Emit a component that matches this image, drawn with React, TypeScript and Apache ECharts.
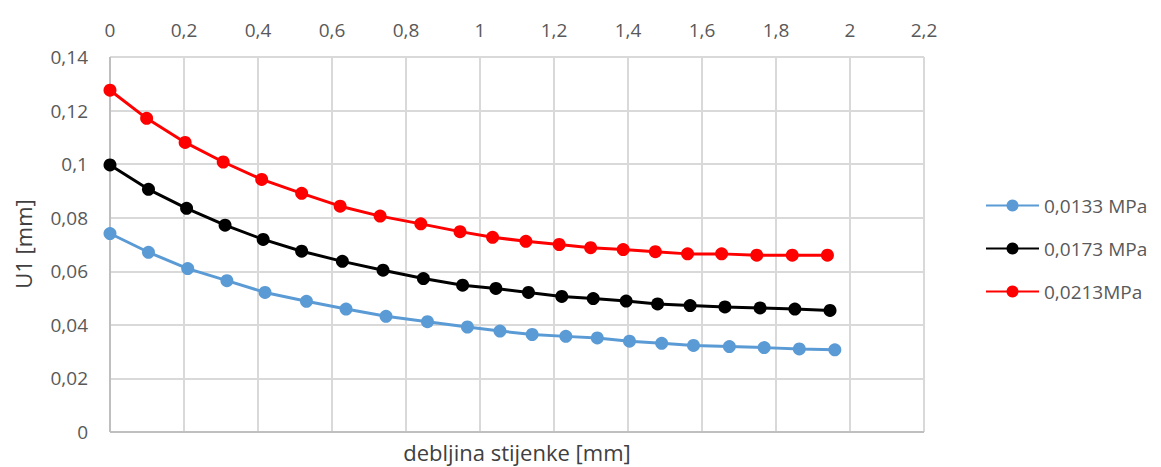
import React, { useEffect, useRef } from "react";
import * as echarts from "echarts";

const seriesNames = ["0,0133 MPa", "0,0173 MPa", "0,0213MPa"];
const seriesColors = ["#5b9bd5", "#000000", "#ff0000"];

const xBlue = [0, 0.104, 0.21, 0.316, 0.419, 0.531, 0.638, 0.746, 0.858, 0.966, 1.054, 1.141, 1.232, 1.317, 1.404, 1.491, 1.577, 1.674, 1.768, 1.863, 1.959];
const yBlue = [0.0741, 0.0671, 0.061, 0.0565, 0.0521, 0.0488, 0.0459, 0.0432, 0.0412, 0.0392, 0.0377, 0.0364, 0.0357, 0.0351, 0.0339, 0.0331, 0.0323, 0.0319, 0.0315, 0.031, 0.0307];

const xBlack = [0, 0.104, 0.207, 0.311, 0.414, 0.518, 0.628, 0.738, 0.847, 0.953, 1.043, 1.131, 1.221, 1.306, 1.395, 1.48, 1.568, 1.662, 1.757, 1.851, 1.946];
const yBlack = [0.0997, 0.0906, 0.0835, 0.0772, 0.0719, 0.0675, 0.0637, 0.0604, 0.0573, 0.0548, 0.0536, 0.0521, 0.0506, 0.0498, 0.0489, 0.0478, 0.0472, 0.0467, 0.0463, 0.0459, 0.0454];

const xRed = [0, 0.099, 0.203, 0.306, 0.41, 0.518, 0.622, 0.73, 0.84, 0.946, 1.034, 1.124, 1.214, 1.299, 1.387, 1.474, 1.561, 1.653, 1.748, 1.844, 1.939];
const yRed = [0.1276, 0.1171, 0.1081, 0.1008, 0.0943, 0.0891, 0.0843, 0.0806, 0.0777, 0.0748, 0.0727, 0.0712, 0.07, 0.0688, 0.0681, 0.0673, 0.0665, 0.0665, 0.066, 0.066, 0.066];

const xTitle = "debljina stijenke [mm]";
const yTitle = "U1 [mm]";

const FONT = "'Open Sans', 'Noto Sans', sans-serif";

const fmt = (v: number) => String(Number(v.toFixed(3))).replace(".", ",");
const zip = (xs: number[], ys: number[]) => xs.map((x, i) => [x, ys[i]]);

export default function App() {
  const ref = useRef<HTMLDivElement>(null);
  useEffect(() => {
    document.body.style.margin = "0";
    const chart = echarts.init(ref.current!, null, { renderer: "svg" });
    const data = [zip(xBlue, yBlue), zip(xBlack, yBlack), zip(xRed, yRed)];
    chart.setOption({
      animation: false,
      backgroundColor: "#ffffff",
      grid: { left: 110, right: 237, top: 57, bottom: 35, containLabel: false },
      legend: {
        orient: "vertical",
        left: 980,
        top: 191,
        itemWidth: 53,
        itemHeight: 15,
        itemGap: 24,
        textStyle: { color: "#595959", fontSize: 19, fontFamily: FONT },
        data: seriesNames,
      },
      xAxis: {
        type: "value",
        position: "top",
        min: 0,
        max: 2.2,
        interval: 0.2,
        axisLine: { show: false },
        axisTick: { show: false },
        axisLabel: {
          color: "#595959",
          fontSize: 19,
          fontFamily: FONT,
          margin: 18,
          formatter: fmt,
        },
        splitLine: { show: true, lineStyle: { color: "#d9d9d9", width: 2 } },
      },
      yAxis: {
        type: "value",
        min: 0,
        max: 0.14,
        interval: 0.02,
        axisLine: { show: false },
        axisTick: { show: false },
        axisLabel: {
          color: "#595959",
          fontSize: 19,
          fontFamily: FONT,
          margin: 22,
          formatter: fmt,
        },
        splitLine: { show: true, lineStyle: { color: "#d9d9d9", width: 2 } },
      },
      graphic: [
        {
          type: "line",
          shape: { x1: 110, y1: 57, x2: 110, y2: 432 },
          style: { stroke: "#bfbfbf", lineWidth: 2 },
          z: 5,
        },
        {
          type: "line",
          shape: { x1: 110, y1: 432, x2: 924, y2: 432 },
          style: { stroke: "#bfbfbf", lineWidth: 2 },
          z: 5,
        },
        {
          type: "text",
          x: 517,
          y: 452,
          style: {
            text: xTitle,
            fill: "#404040",
            fontSize: 22,
            fontFamily: FONT,
            textAlign: "center",
            textVerticalAlign: "middle",
          },
        },
        {
          type: "text",
          style: {
            text: yTitle,
            fill: "#404040",
            fontSize: 22,
            fontFamily: FONT,
            textAlign: "center",
            textVerticalAlign: "middle",
          },
          x: 23,
          y: 244,
          rotation: Math.PI / 2,
        },
      ],
      series: seriesNames.map((name, i) => ({
        name,
        type: "line",
        data: data[i],
        symbol: "circle",
        symbolSize: 13,
        showSymbol: true,
        lineStyle: { color: seriesColors[i], width: 3 },
        itemStyle: { color: seriesColors[i] },
        z: 10,
      })),
    });
    return () => chart.dispose();
  }, []);
  return <div ref={ref} style={{ width: 1161, height: 467 }} />;
}
